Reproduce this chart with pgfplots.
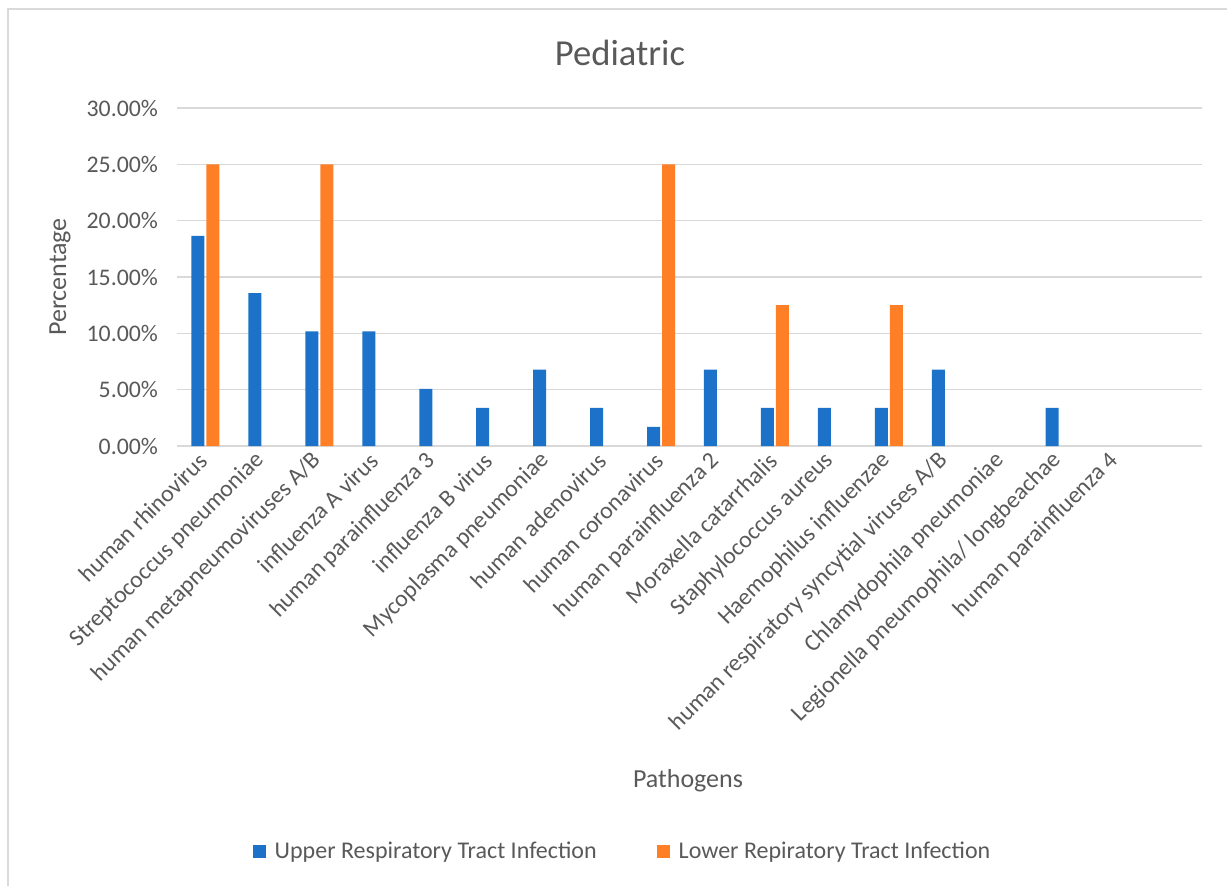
\documentclass[border=0pt]{standalone}
\usepackage{pgfplots}
\pgfplotsset{compat=1.18}
\usepackage{fontspec}
\setmainfont{Carlito}
\definecolor{txt}{HTML}{595959}
\definecolor{gridc}{HTML}{D9D9D9}
\definecolor{ublue}{HTML}{1C71C8}
\definecolor{lorange}{HTML}{FF7F27}
\begin{document}
\begin{tikzpicture}
\useasboundingbox (0,0) rectangle (613.5pt,-443pt);
\draw[gridc, line width=0.75pt] (4pt,-443pt) -- (4pt,-4.5pt) -- (613.5pt,-4.5pt);
\begin{axis}[
  at={(88.5pt,-223pt)}, anchor=south west,
  width=512.5pt, height=169pt, scale only axis,
  ybar=1pt, bar width=6.5pt,
  xmin=-0.5, xmax=17.5, ymin=0, ymax=30,
  xtick={0,...,16},
  xticklabels={human rhinovirus, Streptococcus pneumoniae, human metapneumoviruses A/B, influenza A virus, human parainfluenza 3, influenza B virus, Mycoplasma pneumoniae, human adenovirus, human coronavirus, human parainfluenza 2, Moraxella catarrhalis, Staphylococcus aureus, Haemophilus influenzae, human respiratory syncytial viruses A/B, Chlamydophila pneumoniae, Legionella pneumophila/ longbeachae, human parainfluenza 4},
  ytick={0,5,...,30},
  ymajorgrids, grid style={gridc, line width=0.75pt},
  axis line style={draw=none},
  major tick length=0pt,
  tick label style={font=\fontsize{11.9}{14}\selectfont, text=txt},
  x tick label style={xshift=1.5pt, yshift=-3pt, rotate=45, anchor=east},
  y tick label style={xshift=-6pt},
  /pgf/number format/assume math mode=true,
  yticklabel={\pgfmathprintnumber[fixed,fixed zerofill,precision=2]{\tick}\%},
  legend style={at={(0.4356,-1.201)}, anchor=center, draw=none, fill=none,
    legend columns=2, font=\fontsize{12}{14}\selectfont, text=txt,
    /tikz/every odd column/.append style={column sep=2.5pt},
    /tikz/every even column/.append style={column sep=28pt}},
]
\addplot[fill=ublue, draw=none, legend image code/.code={\fill[ublue] (0pt,-3.25pt) rectangle (6.5pt,3.25pt);}] coordinates {
(0,18.64) (1,13.56) (2,10.17) (3,10.17) (4,5.08) (5,3.39) (6,6.78) (7,3.39) (8,1.69)
(9,6.78) (10,3.39) (11,3.39) (12,3.39) (13,6.78) (15,3.39)};
\addlegendentry{Upper Respiratory Tract Infection}
\addplot[fill=lorange, draw=none, legend image code/.code={\fill[lorange] (0pt,-3.25pt) rectangle (6.5pt,3.25pt);}] coordinates {
(0,25) (2,25) (8,25) (10,12.5) (12,12.5)};
\addlegendentry{Lower Repiratory Tract Infection}
\end{axis}
\node[text=txt, font=\fontsize{18.3}{22}\selectfont] at (310pt,-26.5pt) {Pediatric};
\node[text=txt, font=\fontsize{13}{16}\selectfont, rotate=90] at (30pt,-138.5pt) {Percentage};
\node[text=txt, font=\fontsize{13}{16}\selectfont] at (344pt,-390.5pt) {Pathogens};
\end{tikzpicture}
\end{document}
